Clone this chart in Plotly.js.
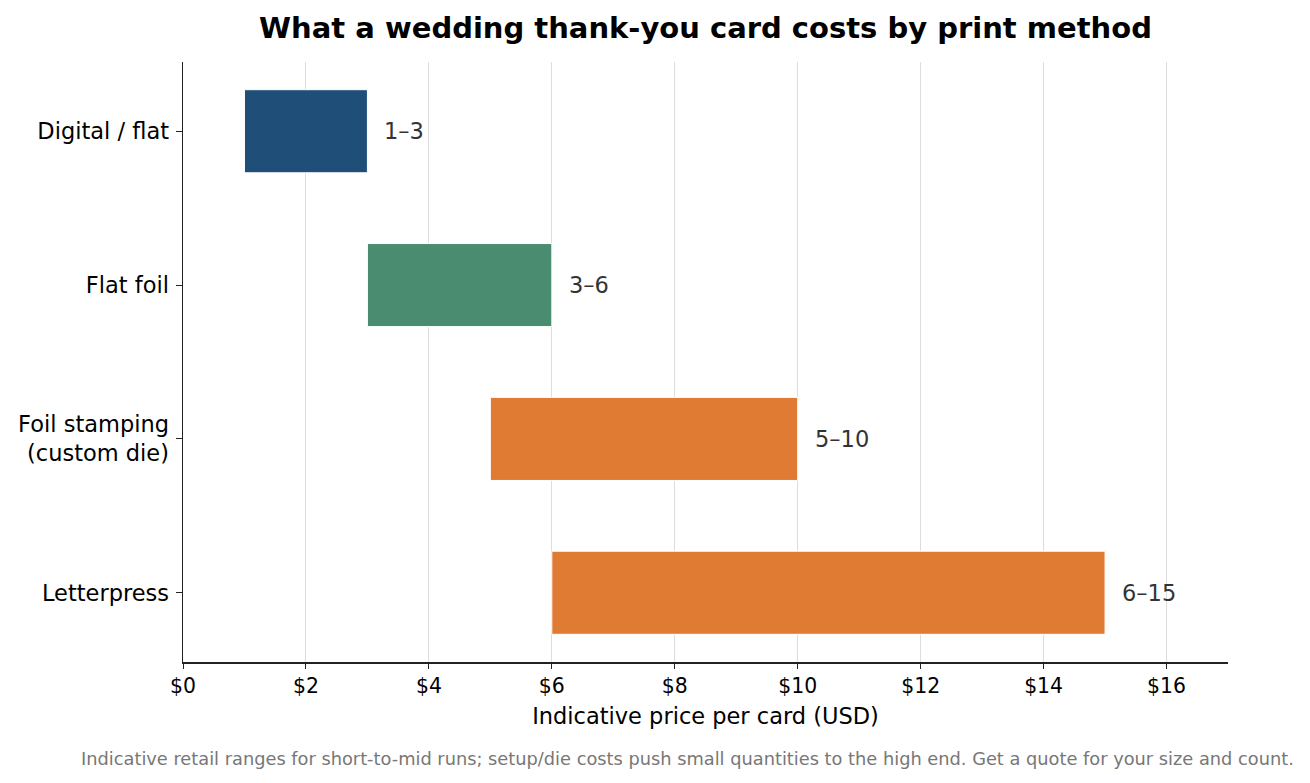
<!DOCTYPE html>
<html>
<head>
<meta charset="utf-8">
<script src="https://cdn.plot.ly/plotly-3.0.1.min.js"></script>
<style>
  html, body { margin: 0; padding: 0; background: #fff; }
  #graph { width: 1310px; height: 783px; }
</style>
</head>
<body>
<div id="graph"></div>
<script>
var methods = ['Digital / flat', 'Flat foil', 'Foil stamping<br>(custom die)', 'Letterpress'];
var lowPrice = [1, 3, 5, 6];
var highPrice = [3, 6, 10, 15];
var rangeLabels = ['1\u20133', '3\u20136', '5\u201310', '6\u201315'];
var barColors = ['#1f4e79', '#4a8c6f', '#e07b33', '#e07b33'];
var xTicks = [0, 2, 4, 6, 8, 10, 12, 14, 16];

function spans() {
    var out = [];
    for (var i = 0; i < lowPrice.length; i++) {
        out.push(highPrice[i] - lowPrice[i]);
    }
    return out;
}

var trace = {
    type: 'bar',
    orientation: 'h',
    y: methods,
    x: spans(),
    base: lowPrice,
    width: 0.54,
    marker: {
        color: barColors,
        line: { color: '#ffffff', width: 1 }
    },
    hoverinfo: 'skip'
};

// range labels just past the end of each bar
var notes = [];
for (var i = 0; i < methods.length; i++) {
    notes.push({
        x: highPrice[i],
        y: methods[i],
        xref: 'x',
        yref: 'y',
        text: rangeLabels[i],
        showarrow: false,
        xanchor: 'left',
        yanchor: 'middle',
        xshift: 15,
        font: { family: 'DejaVu Sans', size: 22.5, color: '#333333' }
    });
}
notes.push({
    x: 1.0655,
    y: -0.16,
    xref: 'paper',
    yref: 'paper',
    text: 'Indicative retail ranges for short-to-mid runs; setup/die costs push small quantities to the high end. Get a quote for your size and count.',
    showarrow: false,
    xanchor: 'right',
    yanchor: 'middle',
    font: { family: 'DejaVu Sans', size: 17.8, color: '#777777' }
});

var tickText = [];
for (var t = 0; t < xTicks.length; t++) {
    tickText.push('$' + xTicks[t]);
}

var layout = {
    width: 1310,
    height: 783,
    margin: { l: 183, r: 82, t: 62, b: 121, pad: 0 },
    paper_bgcolor: '#ffffff',
    plot_bgcolor: '#ffffff',
    showlegend: false,
    font: { family: 'DejaVu Sans', color: '#000000' },
    title: {
        text: '<b>What a wedding thank-you card costs by print method</b>',
        x: 0.5,
        xref: 'paper',
        y: 0.964,
        yanchor: 'middle',
        font: { family: 'DejaVu Sans', size: 29, color: '#000000' }
    },
    xaxis: {
        range: [0, 17],
        tickvals: xTicks,
        ticktext: tickText,
        ticks: 'outside',
        ticklen: 5,
        tickcolor: '#222222',
        tickfont: { size: 20.4 },
        showgrid: true,
        gridcolor: '#dddddd',
        gridwidth: 1,
        zeroline: false,
        showline: true,
        linecolor: '#222222',
        linewidth: 1.5,
        title: {
            text: 'Indicative price per card (USD)',
            font: { size: 22.5 },
            standoff: 11
        }
    },
    yaxis: {
        type: 'category',
        range: [3.45, -0.45],
        ticks: 'outside',
        ticklen: 6,
        tickcolor: '#222222',
        tickfont: { size: 22.5 },
        ticklabelstandoff: 2,
        showgrid: false,
        zeroline: false,
        showline: true,
        linecolor: '#222222',
        linewidth: 1.5
    },
    annotations: notes
};

Plotly.newPlot('graph', [trace], layout, { displayModeBar: false, staticPlot: true });
</script>
</body>
</html>
